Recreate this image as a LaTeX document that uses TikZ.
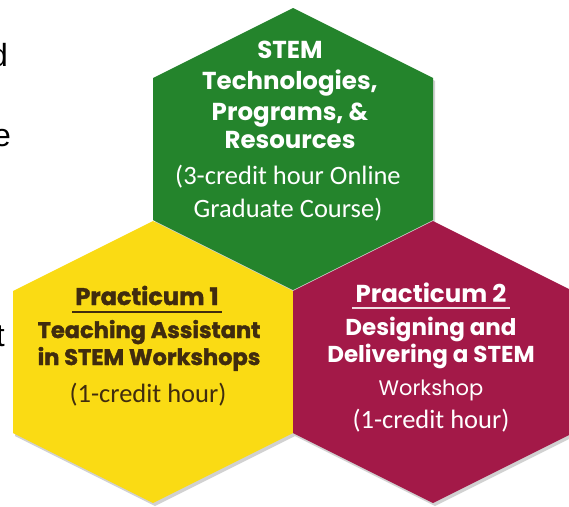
\documentclass[tikz,border=0pt]{standalone}
\usepackage{fontspec}
\setmainfont{Carlito}
\newfontfamily\headfont{Poppins}
\newfontfamily\heavyfont{Poppins}[BoldFeatures={FakeBold=1.6}]
\newfontfamily\edgefont{Liberation Sans}
\definecolor{hexgreen}{RGB}{36,132,44}
\definecolor{hexyellow}{RGB}{250,219,20}
\definecolor{hexmaroon}{RGB}{163,25,72}
\definecolor{browntext}{RGB}{64,44,14}
\begin{document}
\begin{tikzpicture}[x=1pt,y=-1pt,
	title/.style={font=\headfont\bfseries\fontsize{24.5}{28}\selectfont, anchor=base, inner sep=0pt},
	heavy/.style={font=\heavyfont\bfseries\fontsize{22.5}{26}\selectfont, anchor=base, inner sep=0pt, text=browntext},
	plain/.style={font=\fontsize{26.5}{30}\selectfont, anchor=base, inner sep=0pt},
	edge/.style={font=\edgefont\fontsize{32}{36}\selectfont, anchor=base east, inner sep=0pt},
	shade/.style={black, opacity=.18}]
		\useasboundingbox (0,0) rectangle (569,506);
		\fill[white] (0,0) rectangle (569,506);
		
		\node[edge] (edge1) at (8,66) {d};
		\node[edge] (edge2) at (11,146) {e};
		\node[edge] (edge3) at (5,346) {t};
		
		\fill[shade] (295,11) -- ++(140,70) -- ++(0,142) -- ++(-140,70) -- ++(-140,-70) -- ++(0,-142) -- cycle;
		\fill[shade] (155,224) -- ++(140,70) -- ++(0,142) -- ++(-140,70) -- ++(-140,-70) -- ++(0,-142) -- cycle;
		\fill[shade] (435,224) -- ++(140,70) -- ++(0,142) -- ++(-140,70) -- ++(-140,-70) -- ++(0,-142) -- cycle;
		\fill[hexgreen] (293,8) -- ++(140,70) -- ++(0,142) -- ++(-140,70) -- ++(-140,-70) -- ++(0,-142) -- cycle;
		\fill[hexyellow] (153,221) -- ++(140,70) -- ++(0,142) -- ++(-140,70) -- ++(-140,-70) -- ++(0,-142) -- cycle;
		\fill[hexmaroon] (433,221) -- ++(140,70) -- ++(0,142) -- ++(-140,70) -- ++(-140,-70) -- ++(0,-142) -- cycle;
		
		\node[title, text=white] (g1) at (290,58) {STEM};
		\node[title, text=white] (g2) at (290,89) {Technologies,};
		\node[title, text=white] (g3) at (290,120) {Programs, \&};
		\node[title, text=white] (g4) at (290,148) {Resources};
		\node[plain, text=white] (g5) at (288,184) {(3-credit hour Online};
		\node[plain, text=white] (g6) at (288,217) {Graduate Course)};
		
		\node[heavy, font=\heavyfont\bfseries\fontsize{24}{28}\selectfont] (y1) at (147,305) {Practicum 1};
		\draw[browntext, line width=2.5pt] ([xshift=-3pt,yshift=-7pt]y1.base west) -- ([xshift=3pt,yshift=-7pt]y1.base east);
		\node[heavy] (y2) at (149,338) {Teaching Assistant};
		\node[heavy] (y3) at (149,365) {in STEM Workshops};
		\node[plain, text=browntext] (y4) at (148,402) {(1-credit hour)};
		
		\node[title, text=white] (m1) at (431,302) {Practicum 2};
		\draw[white!85!hexmaroon, line width=2.5pt] ([xshift=-3pt,yshift=-6pt]m1.base west) -- ([xshift=3pt,yshift=-6pt]m1.base east);
		\node[title, text=white, font=\headfont\bfseries\fontsize{23}{27}\selectfont] (m2) at (431,335) {Designing and};
		\node[title, text=white, font=\headfont\bfseries\fontsize{23}{27}\selectfont] (m3) at (431,362) {Delivering a STEM};
		\node[title, text=white, font=\headfont\fontsize{21}{25}\selectfont] (m4) at (431,395) {Workshop};
		\node[plain, text=white] (m5) at (431,428) {(1-credit hour)};
\end{tikzpicture}
\end{document}
